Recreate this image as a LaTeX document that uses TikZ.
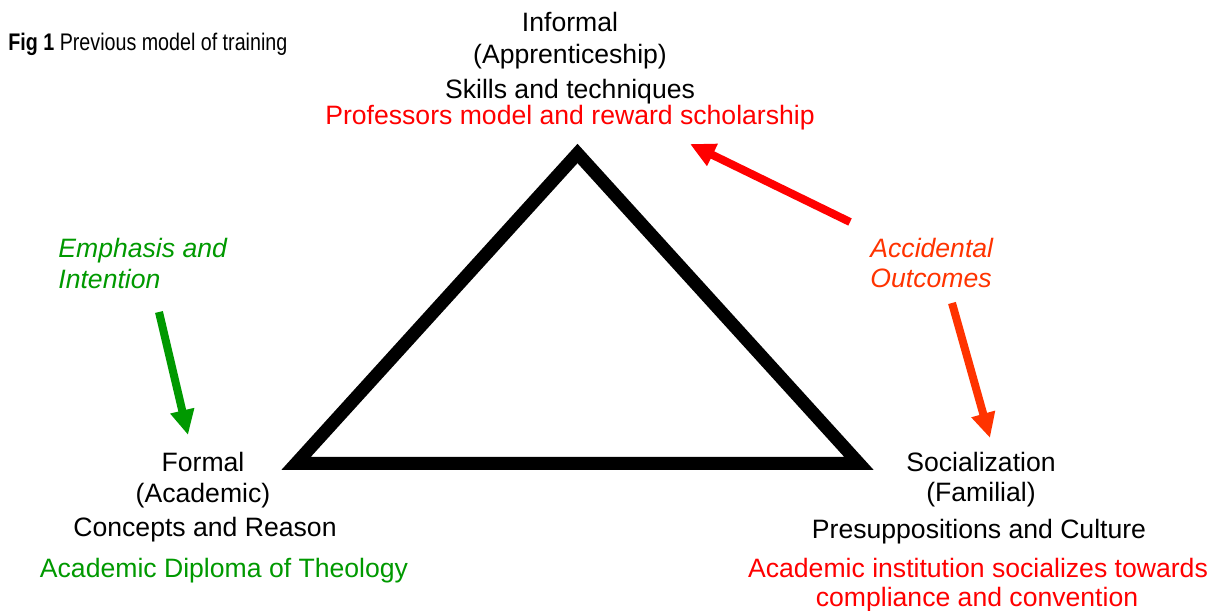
\documentclass[tikz,border=0pt]{standalone}
\usepackage{fontspec}
\setmainfont{Liberation Sans}
\newfontfamily\narrowsans[FakeStretch=0.82]{Liberation Sans}
\usetikzlibrary{arrows.meta}
\definecolor{dgreen}{RGB}{0,153,0}
\definecolor{ored}{RGB}{255,51,0}
\begin{document}
\begin{tikzpicture}[x=0.5pt,y=0.5pt,font=\fontsize{13.3}{15}\selectfont,
  lab/.style={inner sep=0pt,align=center},
  note/.style={inner sep=0pt,align=left,anchor=west,font=\fontsize{13.3}{15}\selectfont\itshape},
  fat/.style={line width=4pt,-{Triangle[length=12.5pt,width=11.5pt]}}]
\useasboundingbox (0,0) rectangle (1224,610);
\node[lab,anchor=west,font=\fontsize{12}{14}\selectfont\narrowsans] (title) at (8,566) {\textbf{Fig 1} Previous model of training};
\draw[line width=6.5pt,miter limit=20] (296,146.5) coordinate (A)--(577.5,456.5) coordinate (I)--(859,146.5) coordinate (S)--cycle;
\node[lab] (inf) at (570,588) {Informal};
\node[lab] (app) at (570,553) {(Apprenticeship)};
\node[lab] (skl) at (570,518) {Skills and techniques};
\node[lab,text=red] (prof) at (570,492) {Professors model and reward scholarship};
\node[lab] (frm) at (203,148) {Formal};
\node[lab] (acd) at (203,114) {(Academic)};
\node[lab] (con) at (205,80) {Concepts and Reason};
\node[lab,text=dgreen] (dip) at (224,39) {Academic Diploma of Theology};
\node[lab] (soc) at (981,148) {Socialization};
\node[lab] (fam) at (981,115) {(Familial)};
\node[lab] (pre) at (979,78) {Presuppositions and Culture};
\node[lab,text=red] (ins) at (978,42) {Academic institution socializes towards};
\node[lab,text=red] (cmp) at (977,10) {compliance and convention};
\node[note,text=dgreen] (emph) at (58,359) {Emphasis and};
\node[note,text=dgreen] (intn) at (58,331) {Intention};
\node[note,text=ored] (acc) at (870,362) {Accidental};
\node[note,text=ored] (out) at (870,332) {Outcomes};
\coordinate (g1) at (159,298); \coordinate (g2) at (188,175);
\coordinate (r1) at (850,388); \coordinate (r2) at (690,466);
\coordinate (o1) at (952,307); \coordinate (o2) at (990,172);
\draw[fat,dgreen] (g1)--(g2);
\draw[fat,red] (r1)--(r2);
\draw[fat,ored] (o1)--(o2);
\end{tikzpicture}
\end{document}
